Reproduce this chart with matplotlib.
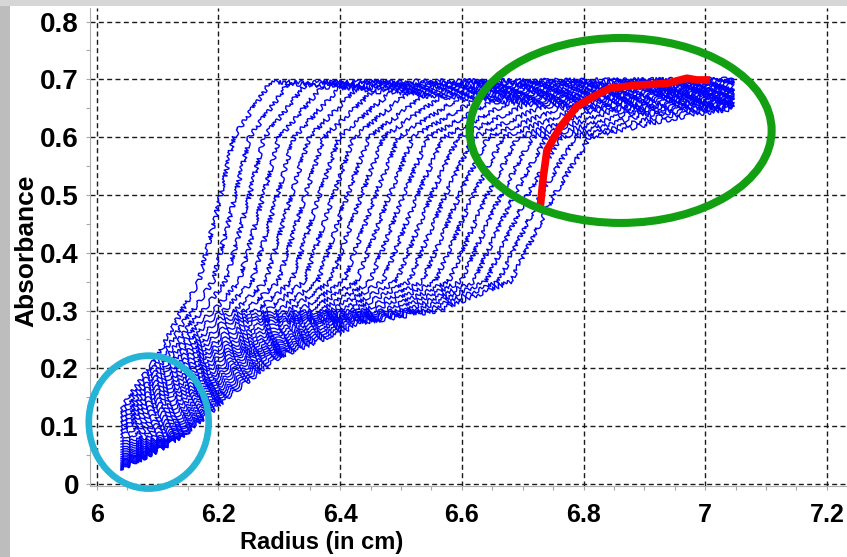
import numpy as np
import matplotlib
matplotlib.use('Agg')
import matplotlib.pyplot as plt
from matplotlib.patches import Ellipse, Rectangle

nan = np.nan

# scan data: radius (cm) at which each scan crosses a given absorbance
r_start = 6.04
r_end = 7.047
meniscus_abs = [0.125, 0.116, 0.108, 0.100, 0.093, 0.086, 0.080, 0.074, 0.069, 0.064,
                0.059, 0.055, 0.051, 0.047, 0.044, 0.041, 0.038, 0.036, 0.034, 0.032,
                0.030, 0.028, 0.027, 0.025, 0.024]
r_008 = [nan, nan, nan, nan, nan, nan, nan, 6.051, 6.060, 6.069,
         6.078, 6.085, 6.092, 6.099, 6.104, 6.110, 6.115, 6.119, 6.122, 6.126,
         6.129, 6.133, 6.135, 6.138, 6.140]
r_015 = [6.052, 6.059, 6.066, 6.072, 6.079, 6.086, 6.093, 6.100, 6.106, 6.113,
         6.120, 6.127, 6.134, 6.140, 6.147, 6.154, 6.161, 6.167, 6.174, 6.181,
         6.188, 6.195, 6.201, 6.208, 6.215]
r_022 = [6.100, 6.108, 6.117, 6.125, 6.133, 6.142, 6.150, 6.158, 6.167, 6.175,
         6.183, 6.192, 6.200, 6.208, 6.217, 6.225, 6.233, 6.242, 6.250, 6.258,
         6.267, 6.275, 6.283, 6.292, 6.300]
r_028 = [6.130, 6.143, 6.156, 6.169, 6.182, 6.195, 6.208, 6.220, 6.233, 6.246,
         6.259, 6.272, 6.285, 6.298, 6.311, 6.324, 6.337, 6.350, 6.363, 6.375,
         6.388, 6.401, 6.414, 6.427, 6.440]
r_030 = [6.140, 6.158, 6.175, 6.193, 6.210, 6.228, 6.245, 6.263, 6.280, 6.298,
         6.315, 6.333, 6.350, 6.368, 6.385, 6.403, 6.420, 6.438, 6.455, 6.473,
         6.490, 6.508, 6.525, 6.543, 6.560]
r_035 = [6.168, 6.191, 6.212, 6.234, 6.255, 6.277, 6.298, 6.320, 6.341, 6.363,
         6.384, 6.406, 6.427, 6.449, 6.470, 6.492, 6.513, 6.535, 6.556, 6.578,
         6.598, 6.619, 6.639, 6.660, 6.680]
r_050 = [6.204, 6.228, 6.251, 6.274, 6.297, 6.320, 6.343, 6.366, 6.389, 6.412,
         6.435, 6.458, 6.481, 6.504, 6.527, 6.550, 6.573, 6.596, 6.619, 6.642,
         6.664, 6.686, 6.708, 6.730, 6.752]
r_060 = [6.225, 6.251, 6.275, 6.300, 6.324, 6.349, 6.373, 6.398, 6.422, 6.447,
         6.471, 6.496, 6.520, 6.545, 6.570, 6.594, 6.619, 6.643, 6.668, 6.692,
         6.716, 6.739, 6.763, 6.786, 6.810]
knee_r = [6.285, 6.314, 6.342, 6.370, 6.398, 6.425, 6.453, 6.481, 6.509, 6.537,
          6.565, 6.593, 6.621, 6.648, 6.676, 6.704, 6.732, 6.760, 6.788, 6.816,
          6.843, 6.869, 6.896, 6.923, 6.950]
knee_abs = [0.695, 0.692, 0.690, 0.687, 0.685, 0.682, 0.679, 0.676, 0.674, 0.671,
            0.669, 0.666, 0.664, 0.661, 0.659, 0.656, 0.653, 0.650, 0.648, 0.645,
            0.643, 0.640, 0.638, 0.635, 0.633]
end_abs = [0.700, 0.698, 0.696, 0.694, 0.692, 0.690, 0.687, 0.685, 0.683, 0.681,
           0.679, 0.677, 0.675, 0.673, 0.671, 0.669, 0.666, 0.664, 0.662, 0.660,
           0.658, 0.656, 0.654, 0.652, 0.650]
level_abs = [0.08, 0.15, 0.22, 0.28, 0.30, 0.35, 0.50, 0.60]

# highlighted scan
red_r = [6.729, 6.734, 6.740, 6.762, 6.789, 6.816, 6.844, 6.888, 6.937, 6.970, 6.986, 7.008]
red_abs = [0.480, 0.532, 0.578, 0.618, 0.653, 0.670, 0.685, 0.690, 0.693, 0.702, 0.699, 0.699]

x_ticks = [6, 6.2, 6.4, 6.6, 6.8, 7, 7.2]
x_tick_labels = ['6', '6.2', '6.4', '6.6', '6.8', '7', '7.2']
y_ticks = [0, 0.1, 0.2, 0.3, 0.4, 0.5, 0.6, 0.7, 0.8]
y_tick_labels = ['0', '0.1', '0.2', '0.3', '0.4', '0.5', '0.6', '0.7', '0.8']

plt.rcParams['font.family'] = ['Liberation Sans', 'DejaVu Sans']
plt.rcParams['font.weight'] = 'bold'

fig = plt.figure(figsize=(8.47, 5.57), dpi=100)
fig.patch.set_facecolor('white')
# grey slide border
fig.patches.append(Rectangle((0, 0), 10 / 847, 1, transform=fig.transFigure,
                             facecolor='#bdbdbd', edgecolor='none', zorder=-5))
fig.patches.append(Rectangle((0, 1 - 6 / 557), 1, 6 / 557, transform=fig.transFigure,
                             facecolor='#d6d6d6', edgecolor='none', zorder=-5))

ax = fig.add_axes([90 / 847, 71 / 557, 757 / 847, 478 / 557])
ax.set_xlim(5.989, 7.233)
ax.set_ylim(-0.0035, 0.8235)

for i in range(len(r_050)):
    rs = [r_start, r_008[i], r_015[i], r_022[i], r_028[i], r_030[i], r_035[i],
          r_050[i], r_060[i], knee_r[i], r_end]
    ab = [meniscus_abs[i]] + level_abs + [knee_abs[i], end_abs[i]]
    rs = np.array(rs)
    ab = np.array(ab)
    ok = ~np.isnan(rs)
    line, = ax.plot(rs[ok], ab[ok], color='#0000ff', lw=1.0, zorder=2)
    # detector noise look
    line.set_sketch_params(scale=2.3, length=7.0, randomness=9.0)

ax.plot(red_r, red_abs, color='#ff0000', lw=5.5, solid_capstyle='butt', zorder=4)

ax.add_patch(Ellipse((6.0855, 0.107), 0.197, 0.230, fill=False, edgecolor='#26b4d6',
                     lw=4.8, clip_on=False, zorder=5))
ax.add_patch(Ellipse((6.861, 0.6116), 0.4963, 0.320, fill=False, edgecolor='#12a012',
                     lw=5.8, clip_on=False, zorder=5))

ax.set_xticks(x_ticks)
ax.set_xticklabels(x_tick_labels)
ax.set_yticks(y_ticks)
ax.set_yticklabels(y_tick_labels)
ax.set_xticks(np.arange(6, 7.21, 0.05), minor=True)
ax.set_yticks(np.arange(0, 0.81, 0.05), minor=True)
ax.tick_params(which='both', direction='out', length=3, color='#a8a8a8', width=0.8)
ax.tick_params(axis='x', labelsize=18, pad=9)
ax.tick_params(axis='y', labelsize=20, pad=5)

ax.grid(True, which='major', color='#1a1a1a', linestyle=(0, (3.6, 2.4)), lw=1.0)
ax.set_axisbelow(True)
for side in ['top', 'right']:
    ax.spines[side].set_visible(False)
for side in ['left', 'bottom']:
    ax.spines[side].set_color('#b0b0b0')
    ax.spines[side].set_linewidth(0.8)

fig.text(322 / 847, 1 - 543 / 557, 'Radius (in cm)', ha='center', va='center',
         fontsize=17, fontweight='bold')
fig.text(26 / 847, 1 - 251 / 557, 'Absorbance', ha='center', va='center',
         rotation=90, fontsize=19, fontweight='bold')

fig.savefig('out.png', dpi=100, facecolor=fig.get_facecolor())
